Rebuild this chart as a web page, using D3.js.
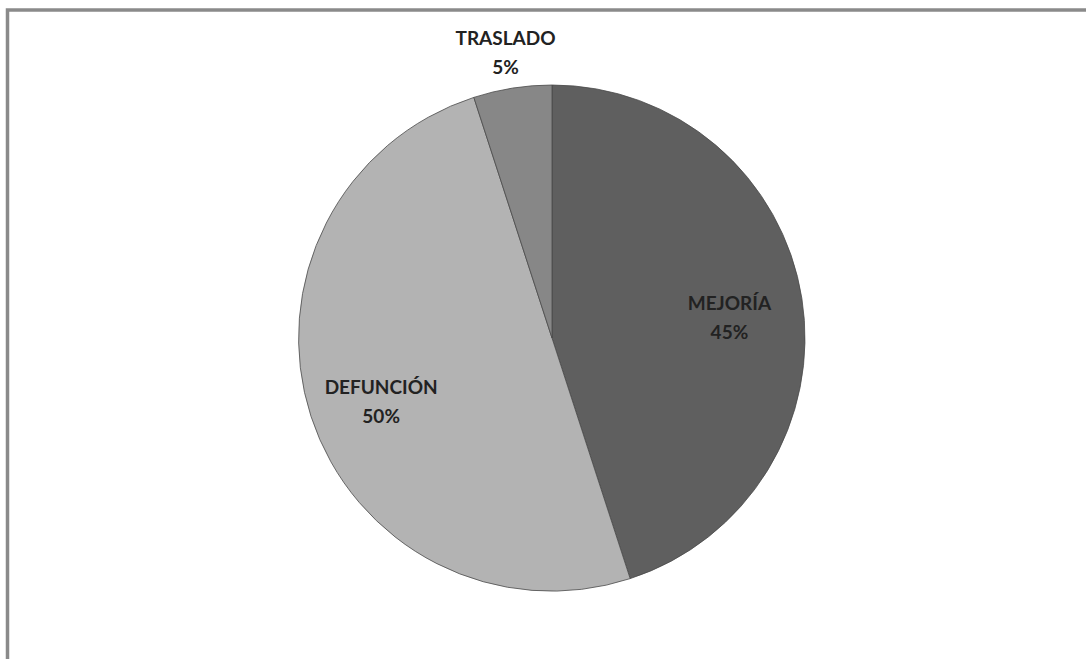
<!DOCTYPE html>
<html>
<head>
<meta charset="utf-8">
<script src="https://cdn.jsdelivr.net/npm/d3@7"></script>
<style>
  html, body { margin: 0; padding: 0; background: #fff; }
  svg { display: block; }
</style>
</head>
<body>
<svg id="chart" width="1086" height="659"></svg>
<script>
// Outcome shares (percent)
const categories = ["MEJORÍA", "DEFUNCIÓN", "TRASLADO"];
const values = [45, 50, 5];
const fills = ["#5f5f5f", "#b3b3b3", "#878787"];

const W = 1086, H = 659;
const svg = d3.select("#chart");

// Chart frame: only the top and left edges fall inside the view
svg.append("rect")
  .attr("x", 7.5).attr("y", 10)
  .attr("width", W + 20).attr("height", H + 20)
  .attr("fill", "#fff")
  .attr("stroke", "#8a8a8a")
  .attr("stroke-width", 3.5);

const cx = 552, cy = 338, R = 253;
const g = svg.append("g").attr("transform", `translate(${cx},${cy})`);

const pie = d3.pie().sort(null).value(d => d.value);
const data = pie(categories.map((c, i) => ({ name: c, value: values[i], fill: fills[i] })));

const arc = d3.arc().innerRadius(0).outerRadius(R);

g.selectAll("path.slice")
  .data(data)
  .join("path")
  .attr("class", "slice")
  .attr("d", arc)
  .attr("fill", d => d.data.fill)
  .attr("stroke", "#4a4a4a")
  .attr("stroke-width", 0.8);

// Labels: inside for large slices, outside for small ones
const total = d3.sum(values);
const inner = d3.arc().innerRadius(R * 0.71).outerRadius(R * 0.71);
const outer = d3.arc().innerRadius(R * 1.174).outerRadius(R * 1.174);

const labels = g.selectAll("text.lbl")
  .data(data)
  .join("text")
  .attr("class", "lbl")
  .attr("text-anchor", "middle")
  .attr("font-family", "Lato, 'Open Sans', sans-serif")
  .attr("font-size", 19)
  .attr("font-weight", 700)
  .attr("fill", "#222")
  .attr("transform", d => {
    const p = (d.value / total < 0.1 ? outer : inner).centroid(d);
    return `translate(${p[0]},${p[1]})`;
  });

labels.append("tspan")
  .attr("x", 0).attr("dy", "0em")
  .text(d => d.data.name);
labels.append("tspan")
  .attr("x", 0).attr("dy", "1.55em")
  .text(d => Math.round(d.value / total * 100) + "%");
</script>
</body>
</html>
